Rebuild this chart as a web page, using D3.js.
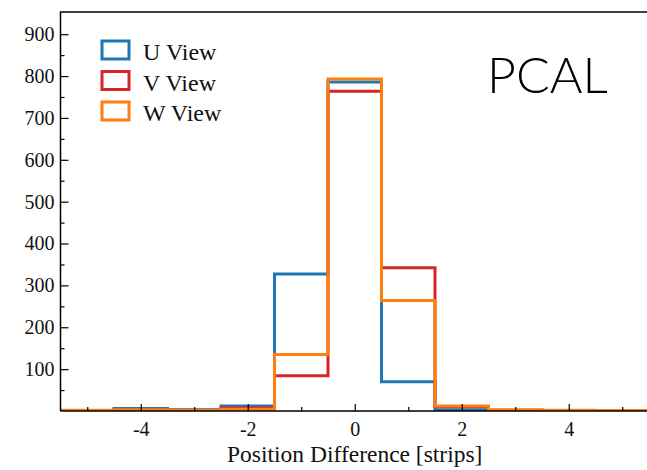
<!DOCTYPE html>
<html>
<head>
<meta charset="utf-8">
<script src="https://cdn.jsdelivr.net/npm/d3@7"></script>
<style>
  body { margin: 0; background: #fff; }
  svg { display: block; }
  .tk text { font-family: "Liberation Serif", serif; font-size: 20px; fill: #111; }
  .tk line, .tk path { stroke: #000; stroke-width: 1.2; }
</style>
</head>
<body>
<div id="chart"></div>
<script>
// histogram bins (centre of each 1-strip bin)
var binCenters = [-5, -4, -3, -2, -1, 0, 1, 2, 3, 4, 5];
var uView = [1, 6, 3, 12, 327, 786, 70, 3, 1, 1, 0];
var vView = [1, 3, 2, 7, 84, 764, 342, 10, 2, 1, 1];
var wView = [2, 3, 2, 4, 135, 793, 264, 12, 3, 2, 1];
var seriesNames = ["U View", "V View", "W View"];
var seriesColors = ["#1f77b4", "#d62728", "#ff7f0e"];
var xMajor = [-4, -2, 0, 2, 4];
var xMinor = [-5, -3, -1, 1, 3, 5];
var yMajor = [100, 200, 300, 400, 500, 600, 700, 800, 900];
var yMinor = [50, 150, 250, 350, 450, 550, 650, 750, 850];

var W = 647, H = 470;
var mLeft = 60.5, mTop = 12, mBottom = 411, mRight = 649;

var svg = d3.select("#chart").append("svg")
    .attr("width", W).attr("height", H);

var x = d3.scaleLinear().domain([-5.5, 5.5]).range([mLeft, mRight]);
var y = d3.scaleLinear().domain([0, 953]).range([mBottom, mTop]);

svg.append("clipPath").attr("id", "plot")
  .append("rect").attr("x", mLeft).attr("y", mTop)
  .attr("width", mRight - mLeft).attr("height", mBottom - mTop);

// step outline of a histogram
function stepPoints(vals){
    var pts = [[binCenters[0] - 0.5, 0]];
    vals.forEach(function(v, i){
        pts.push([binCenters[i] - 0.5, v]);
        pts.push([binCenters[i] + 0.5, v]);
    });
    pts.push([binCenters[binCenters.length - 1] + 0.5, 0]);
    return pts;
}
var line = d3.line().x(function(d){ return x(d[0]); }).y(function(d){ return y(d[1]); });

var g = svg.append("g").attr("clip-path", "url(#plot)");
[uView, vView, wView].forEach(function(vals, i){
    g.append("path")
      .attr("d", line(stepPoints(vals)))
      .attr("fill", "none")
      .attr("stroke", seriesColors[i])
      .attr("stroke-width", 3)
      .attr("stroke-linejoin", "miter");
});

// axes, ticks pointing inwards
var ax = svg.append("g").attr("class", "tk").attr("transform", "translate(0," + mBottom + ")")
    .call(d3.axisBottom(x).tickValues(xMajor).tickSize(-7).tickPadding(11)
      .tickFormat(function(d){ return String(d); }));
ax.select(".domain").remove();
svg.append("g").attr("class", "tk").attr("transform", "translate(0," + mBottom + ")")
    .call(d3.axisBottom(x).tickValues(xMinor).tickSize(-4).tickFormat(""))
    .select(".domain").remove();

var ay = svg.append("g").attr("class", "tk").attr("transform", "translate(" + mLeft + ",0)")
    .call(d3.axisLeft(y).tickValues(yMajor).tickSize(-8).tickPadding(6));
ay.select(".domain").remove();
svg.append("g").attr("class", "tk").attr("transform", "translate(" + mLeft + ",0)")
    .call(d3.axisLeft(y).tickValues(yMinor).tickSize(-4).tickFormat(""))
    .select(".domain").remove();

// spines
svg.append("path")
  .attr("d", "M" + mLeft + "," + mBottom + "V" + mTop + "H" + W)
  .attr("fill", "none").attr("stroke", "#000").attr("stroke-width", 1.5);
svg.append("line")
  .attr("x1", mLeft).attr("x2", W).attr("y1", mBottom).attr("y2", mBottom)
  .attr("stroke", "#000").attr("stroke-width", 1.5);

// legend
var lg = svg.append("g");
seriesNames.forEach(function(name, i){
    var yy = 41 + i * 30.5;
    lg.append("rect").attr("x", 102).attr("y", yy).attr("width", 27).attr("height", 18)
      .attr("fill", "none").attr("stroke", seriesColors[i]).attr("stroke-width", 3);
    lg.append("text").attr("x", 143).attr("y", yy + 19)
      .attr("font-family", "Liberation Serif, serif").attr("font-size", 24).attr("fill", "#111")
      .text(name);
});

svg.append("text").attr("x", 487).attr("y", 93)
  .attr("font-family", "Lato, sans-serif").attr("font-weight", 300).attr("font-size", 50)
  .attr("fill", "#000").text("PCAL");

svg.append("text").attr("x", x(0)).attr("y", 462).attr("text-anchor", "middle")
  .attr("font-family", "Liberation Serif, serif").attr("font-size", 23.5).attr("fill", "#111")
  .text("Position Difference [strips]");
</script>
</body>
</html>
